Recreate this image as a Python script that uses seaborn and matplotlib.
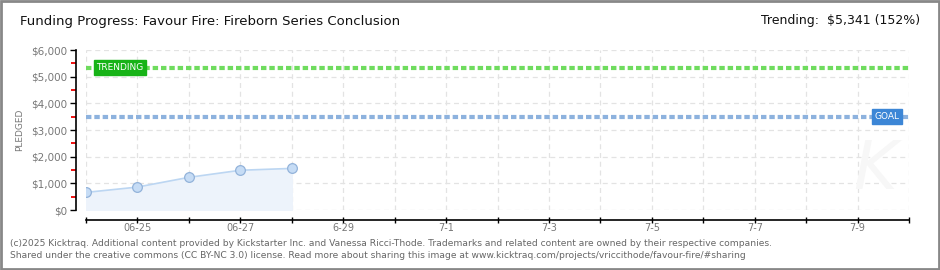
import matplotlib
matplotlib.use("Agg")
import matplotlib.pyplot as plt
import matplotlib.patches as mpatches
import seaborn as sns
import pandas as pd
import numpy as np

dates = ["06-24", "06-25", "06-26", "06-27", "06-28"]
pledged = [660, 860, 1225, 1490, 1560]
all_days = ["06-24", "06-25", "06-26", "06-27", "06-28", "06-29", "06-30", "07-01",
            "07-02", "07-03", "07-04", "07-05", "07-06", "07-07", "07-08", "07-09", "07-10"]
xtick_labels = ["", "06-25", "", "06-27", "", "6-29", "", "7-1", "", "7-3", "", "7-5", "", "7-7", "", "7-9", ""]
ytick_values = [0, 1000, 2000, 3000, 4000, 5000, 6000]
ytick_labels = ["$0", "$1,000", "$2,000", "$3,000", "$4,000", "$5,000", "$6,000"]
goal = 3500
trending = 5341

sns.set_theme(style="white")
plt.rcParams['font.family'] = ['DejaVu Sans']
plt.rcParams['xtick.bottom'] = True
plt.rcParams['ytick.left'] = True

fig = plt.figure(figsize=(9.4, 2.7), dpi=100)
W, H = 940, 270
ax = fig.add_axes([86 / W, 1 - 210 / H, (909 - 86) / W, 160 / H])

df = pd.DataFrame({"day": np.arange(len(dates)), "pledged": pledged})
ax.fill_between(df["day"], df["pledged"], 0, color="#edf3fb", zorder=1)
sns.lineplot(data=df, x="day", y="pledged", ax=ax, color="#bcd6f2", linewidth=1.2,
             marker="o", markersize=7, markerfacecolor="#c6dcf5", markeredgecolor="#93b3da",
             markeredgewidth=0.9, zorder=3)

ax.axhline(trending, color="#6fdc5e", linewidth=3, linestyle=(0, (1.3, 0.7)), zorder=2)
ax.axhline(goal, color="#8db2de", linewidth=3, linestyle=(0, (1.3, 0.7)), zorder=2)

ax.set_xlim(0, len(all_days) - 1)
ax.set_ylim(0, 6000)
ax.set_xticks(np.arange(len(all_days)))
ax.set_xticklabels(xtick_labels)
ax.set_yticks(ytick_values)
ax.set_yticklabels(ytick_labels)
ax.set_yticks(np.arange(500, 6000, 1000), minor=True)
ax.tick_params(axis="y", which="minor", left=True, length=3.5, color="#ee1111", width=1.4)
ax.tick_params(axis="x", which="major", bottom=True, length=5, color="black", width=1,
               direction="inout", pad=0, labelsize=7, labelcolor="#777777")
ax.tick_params(axis="y", which="major", left=True, length=4, color="black", width=1,
               direction="out", pad=2, labelsize=7.5, labelcolor="#777777")
ax.grid(True, which="major", color="#e3e3e3", linestyle=(0, (4, 3)), linewidth=0.9)
ax.set_axisbelow(True)
for s in ["top", "right"]:
    ax.spines[s].set_visible(False)
for s in ["left", "bottom"]:
    ax.spines[s].set_visible(True)
    ax.spines[s].set_color("black")
    ax.spines[s].set_linewidth(1.2)
    ax.spines[s].set_position(("outward", 7.2))
ax.set_xlabel("")
ax.set_ylabel("PLEDGED", fontsize=6.5, color="#777777")
ax.yaxis.set_label_coords(-62 / 823, 0.5)

# labels
ax.text(0.2, trending, "TRENDING", fontsize=6.5, color="white", va="center", ha="left",
        bbox=dict(boxstyle="square,pad=0.3", fc="#17b317", ec="#17b317"), zorder=5)
ax.text(15.33, goal, "GOAL", fontsize=6.5, color="white", va="center", ha="left",
        bbox=dict(boxstyle="square,pad=0.3", fc="#3c86d6", ec="#3c86d6"), zorder=5)

# watermark
fig.text(875 / W, 1 - 170 / H, "K", fontsize=48, color="#f7f7f7", ha="center", va="center",
         style="italic", zorder=0)

fig.text(20 / W, 1 - 22 / H, "Funding Progress: Favour Fire: Fireborn Series Conclusion",
         fontsize=9.5, color="#111111", va="center", ha="left")
fig.text(920 / W, 1 - 21 / H, "Trending:  $5,341 (152%)", fontsize=9, color="#111111",
         va="center", ha="right")
fig.text(10 / W, 1 - 243 / H,
         "(c)2025 Kicktraq. Additional content provided by Kickstarter Inc. and Vanessa Ricci-Thode. Trademarks and related content are owned by their respective companies.",
         fontsize=6.6, color="#666666", va="center", ha="left")
fig.text(10 / W, 1 - 255 / H,
         "Shared under the creative commons (CC BY-NC 3.0) license. Read more about sharing this image at www.kicktraq.com/projects/vriccithode/favour-fire/#sharing",
         fontsize=6.6, color="#666666", va="center", ha="left")

fig.patches.append(mpatches.Rectangle((0.001, 0.002), 0.998, 0.996, transform=fig.transFigure,
                                      fill=False, ec="#888888", lw=2))

fig.savefig("out.png", dpi=100)
